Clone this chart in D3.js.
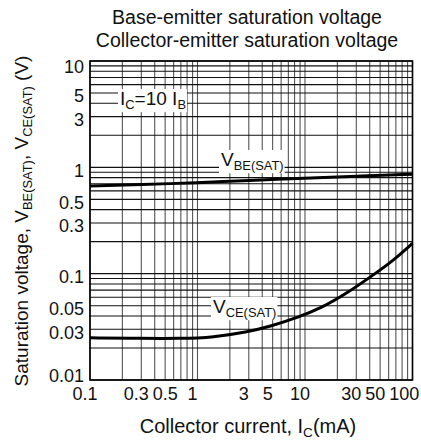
<!DOCTYPE html>
<html><head><meta charset="utf-8">
<script src="https://cdn.jsdelivr.net/npm/d3@7"></script>
<style>
html,body{margin:0;padding:0;background:#fff;}
svg{display:block;}
text{font-family:"Liberation Sans",Arial,Helvetica,sans-serif;fill:#111;}
</style></head>
<body>
<svg id="chart" width="421" height="440"></svg>
<script>
// ---- data ----
const vbeCurrent = [0.1, 0.3, 1, 3, 10, 30, 100];
const vbeVoltage = [0.667, 0.69, 0.715, 0.755, 0.79, 0.825, 0.86];
const vceCurrent = [0.1, 0.3, 0.7, 1.4, 2.9, 4.7, 8.4, 14, 24.5, 43, 67, 100];
const vceVoltage = [0.0249, 0.0246, 0.0245, 0.0252, 0.0283, 0.0318, 0.0385, 0.0472, 0.0653, 0.097, 0.134, 0.193];
const xTickValues = [0.1, 0.3, 0.5, 1, 3, 5, 10, 30, 50, 100];
const xTickLabels = ["0.1", "0.3", "0.5", "1", "3", "5", "10", "30", "50", "100"];
const yTickValues = [10, 5, 3, 1, 0.5, 0.3, 0.1, 0.05, 0.03, 0.01];
const yTickLabels = ["10", "5", "3", "1", "0.5", "0.3", "0.1", "0.05", "0.03", "0.01"];
const titleLines = ["Base-emitter saturation voltage", "Collector-emitter saturation voltage"];

// ---- layout ----
const pL = 90, pR = 412.5, pT = 61, pB = 380;
const svg = d3.select("#chart");
const x = d3.scaleLog().domain([0.1, 100]).range([pL, pR]);
const y = d3.scaleLog().domain([0.01, 10]).range([pB, pT]);

// grid values (1..9 per decade)
function logGrid(lo, hi) {
  const out = [];
  for (let d = lo; d < hi * 0.999; d *= 10) for (let m = 1; m <= 9; m++) out.push(d * m);
  out.push(hi);
  return out;
}
const g = svg.append("g");
g.selectAll("line.v").data(logGrid(0.1, 100)).join("line")
  .attr("x1", d => x(d)).attr("x2", d => x(d)).attr("y1", pT).attr("y2", pB)
  .attr("stroke", "#555").attr("stroke-width", 1.1);
g.selectAll("line.h").data(logGrid(0.01, 10)).join("line")
  .attr("y1", d => y(d)).attr("y2", d => y(d)).attr("x1", pL).attr("x2", pR)
  .attr("stroke", "#111").attr("stroke-width", 1.1);

function subLabel(parent, px, py, parts, fs) {
  const t = parent.append("text").attr("x", px).attr("y", py).attr("font-size", fs);
  parts.forEach(p => {
    const ts = t.append("tspan").text(p[0]);
    if (p[1]) ts.attr("font-size", fs * 0.68).attr("dy", fs * 0.22);
    else ts.attr("dy", p[2] || 0);
  });
  return t;
}
const boxes = svg.append("g");
const curves = svg.append("g");
const labels = svg.append("g");

function boxedLabel(px, py, parts, fs) {
  const t = subLabel(labels, px, py, parts, fs);
  const bb = t.node().getBBox();
  boxes.append("rect").attr("x", bb.x - 2).attr("y", bb.y + 1).attr("width", bb.width + 3).attr("height", bb.height - 1).attr("fill", "#fff");
}
boxedLabel(120, 105, [["I"], ["C", true], ["=10 I", false, -19 * 0.22], ["B", true]], 19);
boxedLabel(221, 166, [["V"], ["BE(SAT)", true]], 19);
boxedLabel(213, 313, [["V"], ["CE(SAT)", true]], 19);

const line = d3.line().x(d => x(d[0])).y(d => y(d[1])).curve(d3.curveBasis);
curves.append("path").datum(d3.zip(vbeCurrent, vbeVoltage)).attr("d", line)
  .attr("fill", "none").attr("stroke", "#000").attr("stroke-width", 3);
curves.append("path").datum(d3.zip(vceCurrent, vceVoltage)).attr("d", line)
  .attr("fill", "none").attr("stroke", "#000").attr("stroke-width", 3);

// frame
svg.append("rect").attr("x", pL).attr("y", pT).attr("width", pR - pL).attr("height", pB - pT)
  .attr("fill", "none").attr("stroke", "#000").attr("stroke-width", 1.6);

// y ticks
svg.append("g").selectAll("text").data(yTickValues).join("text")
  .attr("x", 84).attr("text-anchor", "end").attr("font-size", 18)
  .attr("y", d => Math.min(376, Math.max(67, y(d) + 3))).attr("dy", "0.36em")
  .text((d, i) => yTickLabels[i]);

// x ticks (shifted to avoid overlap, kept inside the page)
const xt = svg.append("g").selectAll("text").data(xTickValues).join("text")
  .attr("y", 400).attr("text-anchor", "middle").attr("font-size", 18)
  .text((d, i) => xTickLabels[i]);
let prevRight = -Infinity;
xt.each(function(d) {
  const w = this.getComputedTextLength();
  let cx = Math.min(x(d) - 5, 417 - w / 2);
  if (cx - w / 2 < prevRight + 4) cx = prevRight + 4 + w / 2;
  prevRight = cx + w / 2;
  d3.select(this).attr("x", cx);
});

// titles
svg.append("g").selectAll("text").data(titleLines).join("text")
  .attr("x", 247).attr("y", (d, i) => 24 + i * 23).attr("text-anchor", "middle").attr("font-size", 19.5)
  .text(d => d);

// x axis title
const xtitle = subLabel(svg, 0, 433, [["Collector current, I"], ["C", true], ["(mA)", false, -20 * 0.22]], 20);
{
  const w = xtitle.node().getBBox().width;
  xtitle.attr("x", 248 - w / 2);
}
// y axis title
const ytitle = subLabel(svg, 0, 0, [["Saturation voltage, V"], ["BE(SAT)", true], [", V", false, -19 * 0.22], ["CE(SAT)", true], [" (V)", false, -19 * 0.22]], 19);
{
  const w = ytitle.node().getBBox().width;
  ytitle.attr("transform", `translate(28,${221 + w / 2}) rotate(-90)`);
}
</script>
</body></html>
